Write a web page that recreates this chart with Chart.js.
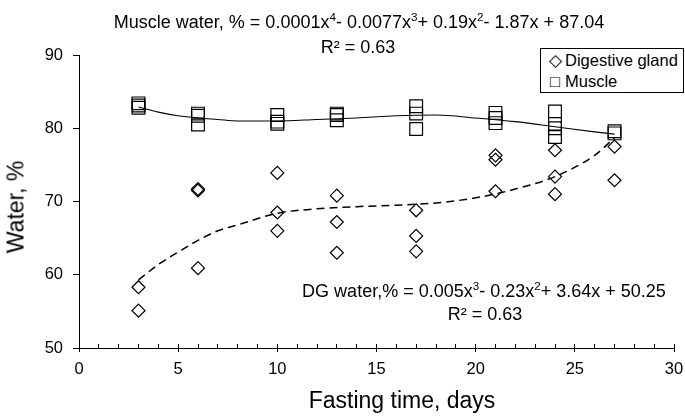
<!DOCTYPE html>
<html>
<head>
<meta charset="utf-8">
<title>Water content during fasting</title>
<script src="https://cdn.jsdelivr.net/npm/chart.js@4"></script>
<style>
    html, body { margin: 0; padding: 0; background: #fff; }
    #wrap {
        position: relative;
        width: 685px;
        height: 417px;
        font-family: "Liberation Sans", Arial, Helvetica, sans-serif;
        color: #000;
    }
    #wrap canvas { position: absolute; left: 0; top: 0; }
    .lbl {
        position: absolute;
        transform: translate(-50%, -50%);
        white-space: nowrap;
        line-height: 1;
        font-size: 18px;
    }
    .sup { font-size: 0.65em; position: relative; top: -0.6em; }
    .axis-title { font-size: 23px; }
    #yTitle { transform: translate(-50%, -50%) rotate(-90deg); }
    #legend {
        position: absolute;
        left: 540px;
        top: 48px;
        width: 144px;
        height: 45px;
        box-sizing: border-box;
        border: 1px solid #000;
        background: #fff;
        font-size: 16.5px;
        line-height: 1;
    }
    #legend .row { position: absolute; left: 5px; white-space: nowrap; }
    #legend .sym { display: inline-block; width: 18px; text-align: center; margin-right: 1px; }
</style>
</head>
<body>
<div id="wrap">
    <canvas id="chart" width="685" height="417"></canvas>

    <div class="lbl" style="left:359px; top:22px;">Muscle water, % = 0.0001x<span class="sup">4</span>- 0.0077x<span class="sup">3</span>+ 0.19x<span class="sup">2</span>- 1.87x + 87.04</div>
    <div class="lbl" style="left:358px; top:47px;">R² = 0.63</div>

    <div class="lbl" style="left:484px; top:291px;">DG water,% = 0.005x<span class="sup">3</span>- 0.23x<span class="sup">2</span>+ 3.64x + 50.25</div>
    <div class="lbl" style="left:485px; top:314px;">R² = 0.63</div>

    <div class="lbl axis-title" id="yTitle" style="left:16px; top:207px;">Water, %</div>
    <div class="lbl axis-title" style="left:402px; top:400px;">Fasting time, days</div>

    <div id="legend">
        <div class="row" style="top:3px;"><span class="sym">◇</span>Digestive gland</div>
        <div class="row" style="top:24px;"><span class="sym">□</span>Muscle</div>
    </div>
</div>

<script>
// Данные
const dgDays = [3, 3, 6, 6, 6, 10, 10, 10, 13, 13, 13, 17, 17, 17, 21, 21, 21, 24, 24, 24, 27, 27];
const dgWater = [58.3, 55.1, 71.7, 71.5, 60.9, 73.9, 68.5, 66.0, 70.8, 67.2, 63.0, 68.8, 65.3, 63.2, 76.3, 75.7, 71.4, 77.0, 73.4, 71.0, 77.5, 72.9];

const muscleDays = [3, 3, 3, 6, 6, 6, 10, 10, 10, 13, 13, 13, 17, 17, 17, 21, 21, 21, 24, 24, 24, 24, 27, 27];
const muscleWater = [83.4, 83.1, 82.8, 82.0, 81.7, 80.5, 81.8, 80.9, 80.6, 82.0, 81.8, 81.1, 83.0, 82.0, 79.9, 82.1, 81.4, 80.7, 82.3, 80.6, 80.0, 78.8, 79.6, 79.3];

const trendDays = [3, 4, 5, 6, 7, 8, 10, 12, 14, 16, 18, 20, 22, 24, 26, 27];
const muscleTrend = [82.9, 82.2, 81.7, 81.4, 81.2, 81.0, 81.0, 81.2, 81.4, 81.7, 81.8, 81.4, 80.9, 80.2, 79.5, 79.2];
const dgTrend = [59.3, 61.4, 63.1, 64.7, 66.0, 66.8, 68.4, 69.0, 69.3, 69.5, 69.8, 70.5, 71.7, 73.4, 76.3, 78.7];

// Подписи осей
const xTickStep = 5;
const yTicks = [50, 60, 70, 80, 90];

const toPoints = (xs, ys) => xs.map((x, i) => ({ x: x, y: ys[i] }));

Chart.defaults.font.family = '"Liberation Sans", Arial, Helvetica, sans-serif';
Chart.defaults.color = '#000';

const ctx = document.getElementById('chart').getContext('2d');

window.waterChart = new Chart(ctx, {
    type: 'scatter',
    data: {
        datasets: [
            {
                label: 'Muscle trend',
                data: toPoints(trendDays, muscleTrend),
                showLine: true,
                borderColor: '#000',
                borderWidth: 1.1,
                pointRadius: 0,
                cubicInterpolationMode: 'monotone',
                fill: false
            },
            {
                label: 'DG trend',
                data: toPoints(trendDays, dgTrend),
                showLine: true,
                borderColor: '#000',
                borderWidth: 1.5,
                borderDash: [8, 5],
                pointRadius: 0,
                cubicInterpolationMode: 'monotone',
                fill: false
            },
            {
                label: 'Digestive gland',
                data: toPoints(dgDays, dgWater),
                pointStyle: 'rectRot',
                pointRadius: 6.5,
                borderWidth: 1.2,
                borderColor: '#000',
                backgroundColor: 'rgba(0,0,0,0)'
            },
            {
                label: 'Muscle',
                data: toPoints(muscleDays, muscleWater),
                pointStyle: 'rect',
                pointRadius: 9,
                borderWidth: 1.2,
                borderColor: '#000',
                backgroundColor: 'rgba(0,0,0,0)'
            }
        ]
    },
    options: {
        responsive: false,
        animation: false,
        layout: { padding: { top: 55, right: 11, bottom: 0, left: 0 } },
        plugins: {
            legend: { display: false },
            tooltip: { enabled: false },
            title: { display: false }
        },
        scales: {
            x: {
                type: 'linear',
                position: 'bottom',
                min: 0,
                max: 30,
                ticks: {
                    stepSize: 1,
                    autoSkip: false,
                    maxRotation: 0,
                    padding: 16,
                    font: { size: 16.5 },
                    callback: v => (v % xTickStep === 0 ? v : '')
                },
                grid: { drawOnChartArea: false, tickLength: -4, color: '#000', tickWidth: 1 },
                border: { color: '#000', width: 1 },
                afterFit: s => {
                    s.height = 69;
                    s.paddingLeft = 0;
                    s.paddingRight = 0;
                }
            },
            // большие засечки вниз
            xMajor: {
                type: 'linear',
                position: 'bottom',
                weight: -1,
                min: 0,
                max: 30,
                ticks: { display: false, stepSize: xTickStep },
                grid: { drawOnChartArea: false, tickLength: 4, color: '#000', tickWidth: 1 },
                border: { display: false },
                afterFit: s => {
                    s.height = 0;
                    s.paddingLeft = 0;
                    s.paddingRight = 0;
                }
            },
            y: {
                min: yTicks[0],
                max: yTicks[yTicks.length - 1],
                afterBuildTicks: s => { s.ticks = yTicks.map(v => ({ value: v })); },
                ticks: { padding: 10, font: { size: 16.5 } },
                grid: { drawOnChartArea: false, tickLength: 6, color: '#000', tickWidth: 1 },
                border: { color: '#000', width: 1 },
                afterFit: s => { s.width = 79; }
            }
        }
    }
});
</script>
</body>
</html>
